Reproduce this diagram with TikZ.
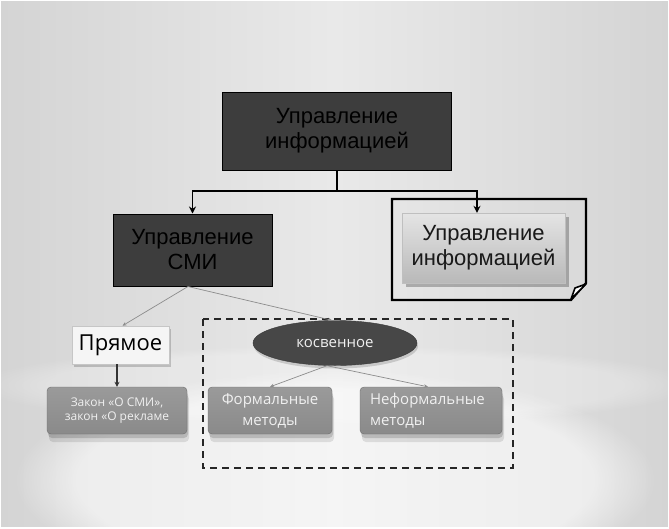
\documentclass[tikz,border=0pt]{standalone}
\usepackage{fontspec}
\setmainfont{Liberation Sans}
\newfontfamily\lowfont{Open Sans}
\usetikzlibrary{arrows.meta,shapes.geometric,shadows,fadings}
\definecolor{bgedge}{HTML}{D4D4D4}
\definecolor{bgmid}{HTML}{E9E9E9}
\definecolor{darkfill}{HTML}{3D3D3D}
\definecolor{grayfill}{HTML}{8A8A8A}
\definecolor{grayfilltop}{HTML}{9A9A9A}
\definecolor{ellfill}{HTML}{474747}
\definecolor{thinline}{HTML}{8C8C8C}
\definecolor{lighttext}{HTML}{F0F0F0}
\definecolor{infofill}{HTML}{D9D9D9}
\tikzset{
  darkbox/.style={draw=black, line width=1pt, fill=darkfill, text=black,
    font=\fontsize{22}{25}\selectfont, align=center, inner sep=0pt},
  softshadow/.style={drop shadow={shadow xshift=2pt, shadow yshift=-8pt, fill=black, opacity=.10},
                     drop shadow={shadow xshift=1pt, shadow yshift=-4pt, fill=black, opacity=.15}},
  graybox/.style={rounded corners=4pt, top color=grayfilltop, bottom color=grayfill,
    draw=grayfill!80!black, line width=.4pt, text=lighttext, inner sep=0pt, softshadow},
  mainarrow/.style={draw=black, line width=1.5pt, -{Stealth[length=7pt,width=7pt]}},
  thinarrow/.style={draw=thinline, line width=.7pt, -{Stealth[length=4pt,width=3.5pt]}},
}
\begin{document}
\begin{tikzpicture}[x=1pt,y=-1pt]
\useasboundingbox (0,0) rectangle (669,528);
% background
\shade[left color=bgedge, right color=bgedge, middle color=bgmid] (0,0) rectangle (669,528);
\fill[white, path fading=circle with fuzzy edge 20 percent, opacity=.55] (335,480) ellipse [x radius=320, y radius=110];
\fill[white, path fading=circle with fuzzy edge 20 percent, opacity=.25] (335,385) ellipse [x radius=360, y radius=40];
\draw[white, line width=2pt] (0,0) rectangle (669,528);

% top box
\node[darkbox, minimum width=229pt, minimum height=78pt] (top) at (337,131)
  {Управление\\информацией};
% left dark box
\node[darkbox, minimum width=159pt, minimum height=72pt] (smi) at (192.5,250)
  {Управление\\СМИ};

% right framed page
\draw[line width=2.2pt, line join=miter] (392,199) -- (586,199) -- (586,283) -- (571,300) -- (392,300) -- cycle;
\draw[line width=1.6pt, fill=white, line join=round] (571,299) -- (575,288) -- (586,284) -- cycle;
\node[top color=infofill!70!white, bottom color=infofill!85!black, draw=gray!50, line width=.4pt,
  minimum width=163pt, minimum height=70pt, inner sep=0pt, align=center,
  font=\fontsize{22}{25}\selectfont, text=black!90,
  drop shadow={shadow xshift=4pt, shadow yshift=-4pt, fill=black, opacity=.25}] (info) at (483.5,248)
  {Управление\\информацией};

% main connectors
\draw[draw=black, line width=1.5pt] (top.south) -- (337,191) coordinate (j);
\draw[mainarrow] (j) -| (smi.north);
\draw[mainarrow] (j) -| ([xshift=-6.5pt]info.north);

% dashed region
\draw[line width=2pt, dash pattern=on 7pt off 5pt, draw=black!85] (203,319) rectangle (513,468);

% Прямое
\node[fill=white!96!black, draw=gray!45, line width=.6pt, minimum width=97pt, minimum height=38pt,
  inner sep=0pt, font=\lowfont\fontsize{22}{24}\selectfont, text=black,
  drop shadow={shadow xshift=2pt, shadow yshift=-3pt, fill=black, opacity=.18}] (direct) at (120.5,345) {Прямое};

% ellipse
\node[ellipse, fill=ellfill, draw=ellfill!80!black, minimum width=164pt, minimum height=45pt, inner sep=0pt,
  font=\lowfont\fontsize{15}{17}\selectfont, text=lighttext,
  drop shadow={shadow xshift=1pt, shadow yshift=-3pt, fill=black, opacity=.15}] (ell) at (335,343) {косвенное};

% gray boxes
\node[graybox, minimum width=140pt, minimum height=47pt, align=center,
  font=\lowfont\fontsize{12}{14.5}\selectfont] (law) at (117,410.5)
  {Закон «О СМИ»,\\закон «О рекламе};
\node[graybox, minimum width=124pt, minimum height=47pt, align=center,
  font=\lowfont\fontsize{15}{21}\selectfont] (formal) at (270,410.5)
  {Формальные\\методы};
\node[graybox, minimum width=142pt, minimum height=47pt, align=left, text width=122pt,
  font=\lowfont\fontsize{15}{21}\selectfont] (informal) at (431,410.5)
  {Неформальные\\методы};

% thin connectors
\coordinate (s1) at ([xshift=-4.5pt]smi.south);
\draw[thinarrow] (s1) -- ([xshift=2pt]direct.north);
\draw[thinarrow] (s1) -- ([xshift=-3pt]ell.north);
\coordinate (e1) at ([xshift=-8pt]ell.south);
\draw[thinarrow] (e1) -- (formal.north);
\draw[thinarrow] (e1) -- ([xshift=-3pt]informal.north);
\draw[draw=black!80, line width=1.5pt, -{Stealth[length=5pt,width=5pt]}] (direct.south -| law.north) -- (law.north);
\end{tikzpicture}
\end{document}
